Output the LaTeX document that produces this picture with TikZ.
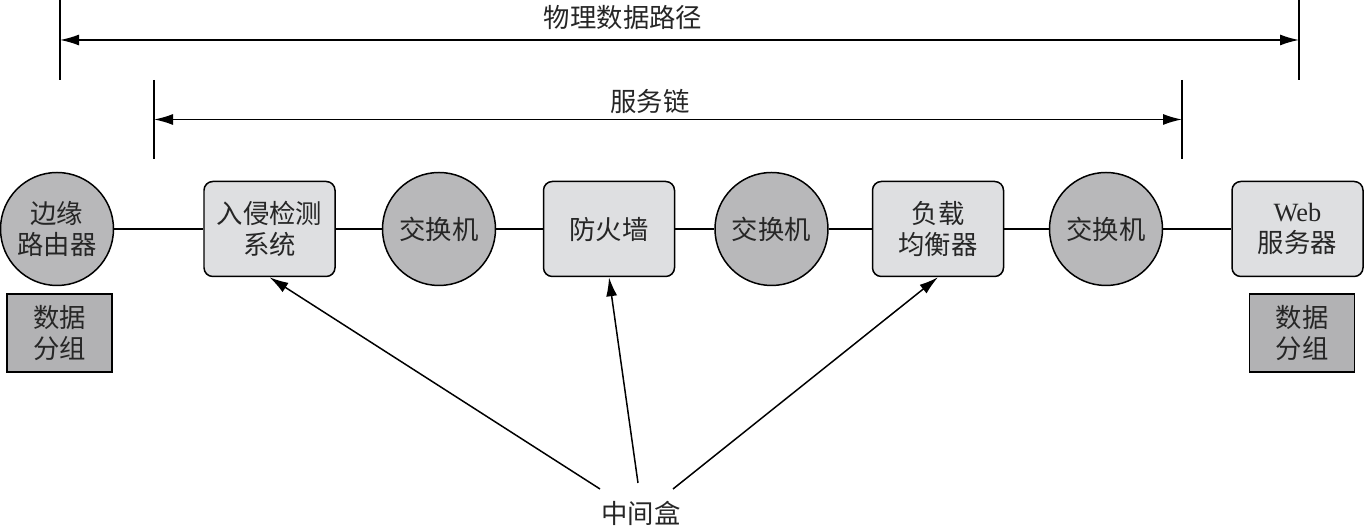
\documentclass[tikz,border=0pt]{standalone}
\usepackage{fontspec}
\setmainfont{Liberation Serif}
\newfontfamily\cjk{Noto Sans CJK SC}
\usepackage{tikz}
\usetikzlibrary{arrows.meta,calc}
\definecolor{devgray}{RGB}{184,184,186}
\definecolor{boxgray}{RGB}{222,223,225}
\definecolor{pktgray}{RGB}{178,178,180}

\begin{document}
\begin{tikzpicture}[
    >={Latex[length=3.8mm,width=2.2mm]},
    line width=0.85pt,
    every node/.style={font=\cjk\fontsize{15}{17.6}\selectfont,text=black!85},
    dev/.style={draw,circle,fill=devgray,minimum size=2.26cm,inner sep=0pt,align=center},
    box/.style={draw,rounded corners=5pt,fill=boxgray,minimum width=2.62cm,minimum height=1.9cm,align=center,inner sep=2pt},
    pkt/.style={draw,fill=pktgray,minimum width=2.1cm,minimum height=1.56cm,align=center,inner sep=2pt}
]
\useasboundingbox (0,0) rectangle (27.3,10.52);
\node[dev] (R) at (1.14,5.94) {边缘\\路由器};
\node[box] (IDS) at (5.39,5.94) {入侵检测\\系统};
\node[dev] (S1) at (8.78,5.94) {交换机};
\node[box] (FW) at (12.18,5.94) {防火墙};
\node[dev] (S2) at (15.43,5.94) {交换机};
\node[box] (LB) at (18.76,5.94) {负载\\均衡器};
\node[dev] (S3) at (22.12,5.94) {交换机};
\node[box] (Web) at (25.95,5.94) {{\rmfamily Web}\\服务器};
\node[pkt] (P1) at (1.19,3.86) {数据\\分组};
\node[pkt] (P2) at (26.04,3.86) {数据\\分组};
\draw (R) -- (IDS) -- (S1) -- (FW) -- (S2) -- (LB) -- (S3) -- (Web);

\coordinate (PT1) at (1.20,10.52);
\coordinate (PB1) at (1.20,8.92);
\coordinate (PT2) at (25.98,10.52);
\coordinate (PB2) at (25.98,8.92);
\draw (PT1) -- (PB1);
\draw (PT2) -- (PB2);
\draw[<->] ($(PT1)!0.5!(PB1)$) -- ($(PT2)!0.5!(PB2)$);
\node (PHY) at (12.46,10.16) {物理数据路径};

\coordinate (CT1) at (3.08,8.92);
\coordinate (CB1) at (3.08,7.34);
\coordinate (CT2) at (23.64,8.92);
\coordinate (CB2) at (23.64,7.34);
\draw (CT1) -- (CB1);
\draw (CT2) -- (CB2);
\draw[<->] ($(CT1)!0.5!(CB1)$) -- ($(CT2)!0.5!(CB2)$);
\node (SC) at (13.0,8.50) {服务链};

\node (MB) at (12.82,0.26) {中间盒};
\draw[->] ($(MB)+(-0.82,0.48)$) -- (IDS.south);
\draw[->] ($(MB)+(-0.06,0.60)$) -- (FW.south);
\draw[->] ($(MB)+(0.64,0.48)$) -- (LB.south);
\end{tikzpicture}
\end{document}
